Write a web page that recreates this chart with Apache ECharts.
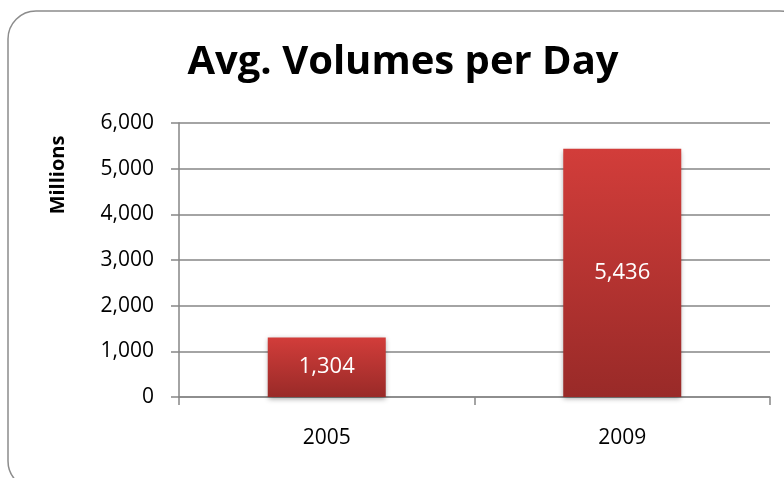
<!doctype html>
<html>
<head>
<meta charset="utf-8">
<title>Avg. Volumes per Day</title>
<script src="https://cdn.jsdelivr.net/npm/echarts@6/dist/echarts.min.js"></script>
<style>
  html, body { margin: 0; padding: 0; background: #fff; }
  #chart { width: 784px; height: 478px; }
</style>
</head>
<body>
<div id="chart"></div>
<script>
// data
var years = ['2005', '2009'];
var volumes = [1304, 5436];
var yTicks = [0, 1000, 2000, 3000, 4000, 5000, 6000];

var font = '"Open Sans", "Noto Sans", sans-serif';
function fmt(v) { return v.toLocaleString('en-US'); }

var myChart = echarts.init(document.getElementById('chart'));
var option = {
  backgroundColor: '#fff',
  animation: false,
  title: {
    text: 'Avg. Volumes per Day',
    left: 398,
    textAlign: 'center',
    top: 38,
    textStyle: { fontFamily: font, fontWeight: 'bold', fontSize: 40, color: '#000' }
  },
  graphic: [{
    type: 'rect',
    shape: { x: 8, y: 11, width: 800, height: 478, r: 28 },
    style: { fill: null, stroke: '#8c8c8c', lineWidth: 1.5 },
    silent: true
  }, {
    // axis title sits high on the left, not centred on the axis
    type: 'text',
    x: 58,
    y: 175,
    rotation: Math.PI / 2,
    style: {
      text: 'Millions',
      fontFamily: font, fontWeight: 'bold', fontSize: 20, fill: '#000',
      align: 'center', verticalAlign: 'middle'
    },
    silent: true
  }],
  grid: { left: 179, right: 14, top: 123, bottom: 81 },
  xAxis: {
    type: 'category',
    data: years,
    axisLine: { lineStyle: { color: '#868686', width: 1.5 } },
    axisTick: { show: true, length: 8, lineStyle: { color: '#868686', width: 1.5 } },
    axisLabel: { margin: 31, fontFamily: font, fontSize: 21, color: '#000' }
  },
  yAxis: {
    type: 'value',
    min: yTicks[0],
    max: yTicks[yTicks.length - 1],
    interval: 1000,
    axisLine: { show: true, lineStyle: { color: '#868686', width: 1.5 } },
    axisTick: { show: true, length: 8, lineStyle: { color: '#868686', width: 1.5 } },
    splitLine: { lineStyle: { color: '#868686', width: 1.5 } },
    axisLabel: {
      margin: 25, fontFamily: font, fontSize: 21, color: '#000',
      formatter: fmt
    }
  },
  series: [{
    type: 'bar',
    data: volumes,
    barWidth: 118,
    itemStyle: {
      color: new echarts.graphic.LinearGradient(0, 0, 0, 1, [
        { offset: 0, color: '#d23d3a' },
        { offset: 1, color: '#992a28' }
      ]),
      shadowColor: 'rgba(0,0,0,0.35)',
      shadowBlur: 5,
      shadowOffsetY: 2
    },
    label: {
      show: true,
      position: 'inside',
      color: '#fff',
      fontFamily: font,
      fontSize: 22,
      formatter: function (p) { return fmt(p.value); }
    }
  }]
};
myChart.setOption(option);
</script>
</body>
</html>
